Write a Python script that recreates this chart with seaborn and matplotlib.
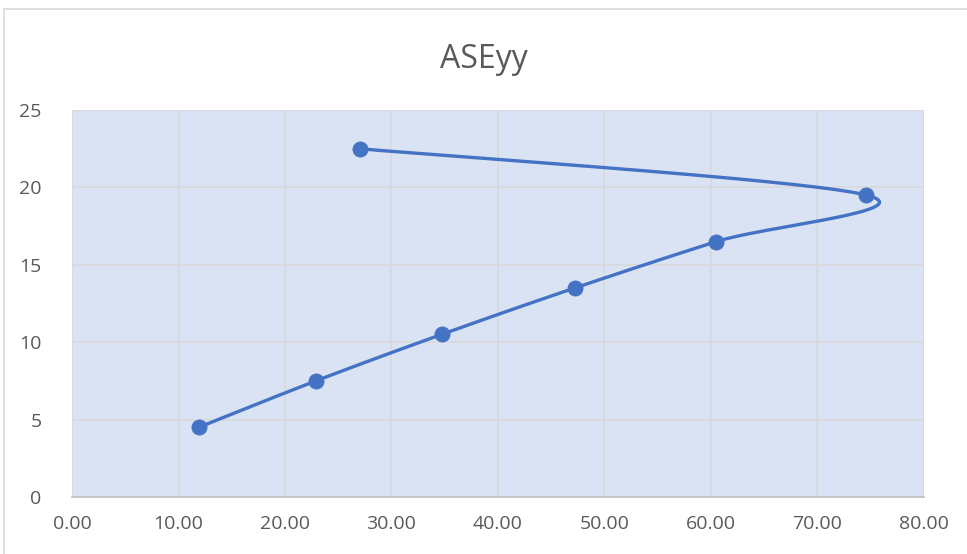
import numpy as np
import pandas as pd
import matplotlib
matplotlib.use("Agg")
import matplotlib.pyplot as plt
from matplotlib.patches import Rectangle
import seaborn as sns

# Series values
x_vals = [11.9, 22.9, 34.7, 47.2, 60.5, 74.6, 27.0]
y_vals = [4.5, 7.5, 10.5, 13.5, 16.5, 19.5, 22.5]
x_ticks = [0, 10, 20, 30, 40, 50, 60, 70, 80]
y_ticks = [0, 5, 10, 15, 20, 25]
title = "ASEyy"

LINE = "#4472C4"
TEXT = "#595959"


def smooth_curve(xs, ys, n=60):
    """Cubic Bezier smoothing through every point (spreadsheet-style)."""
    p = np.column_stack([xs, ys]).astype(float)
    ext = np.vstack([p[0], p, p[-1]])
    out = []
    t = np.linspace(0, 1, n)[:, None]
    for i in range(1, len(ext) - 2):
        p0, p1, p2, p3 = ext[i - 1], ext[i], ext[i + 1], ext[i + 2]
        c1 = p1 + (p2 - p0) / 6.0
        c2 = p2 - (p3 - p1) / 6.0
        seg = ((1 - t) ** 3) * p1 + 3 * ((1 - t) ** 2) * t * c1 + 3 * (1 - t) * t ** 2 * c2 + t ** 3 * p2
        out.append(seg if i == 1 else seg[1:])
    return np.vstack(out)


sns.set_theme(style="white")
plt.rcParams["font.family"] = ["Open Sans", "DejaVu Sans"]

fig = plt.figure(figsize=(9.67, 5.54), dpi=100)
fig.patch.set_facecolor("white")
fig.patches.append(Rectangle((4 / 967, -0.1), 1.2, (554 - 9) / 554 + 0.1,
                             transform=fig.transFigure, fill=False,
                             edgecolor="#D9D9D9", linewidth=1.2, zorder=0))

ax = fig.add_axes([72 / 967, 57 / 554, 852 / 967, 387 / 554])
ax.set_facecolor("#DAE3F3")

curve = smooth_curve(x_vals, y_vals)
curve_df = pd.DataFrame({"x": curve[:, 0], "y": curve[:, 1], "i": np.arange(len(curve))})
sns.lineplot(data=curve_df, x="x", y="y", sort=False, estimator=None,
             color=LINE, linewidth=2.4, ax=ax, zorder=3)

pts = pd.DataFrame({"x": x_vals, "y": y_vals})
sns.scatterplot(data=pts, x="x", y="y", color=LINE, s=120, edgecolor=LINE,
                linewidth=0.5, ax=ax, zorder=4)

ax.set_xlim(0, 80)
ax.set_ylim(0, 25)
ax.set_xticks(x_ticks)
ax.set_yticks(y_ticks)
ax.set_xticklabels([f"{v:.2f}" for v in x_ticks])
ax.set_yticklabels([str(v) for v in y_ticks])
ax.grid(True, color="#D9D9D9", linewidth=1.2)
ax.set_axisbelow(True)
for side in ["left", "top", "right"]:
    ax.spines[side].set_visible(False)
ax.spines["bottom"].set_color("#BFBFBF")
ax.spines["bottom"].set_linewidth(1.2)
ax.tick_params(axis="both", length=0, labelsize=14, labelcolor=TEXT)
ax.tick_params(axis="x", pad=13)
ax.tick_params(axis="y", pad=22)
ax.set_xlabel("")
ax.set_ylabel("")

fig.text(0.5, (554 - 60) / 554, title, ha="center", va="center",
         fontsize=23, color=TEXT)

fig.savefig("out.png", dpi=100, facecolor="white")
